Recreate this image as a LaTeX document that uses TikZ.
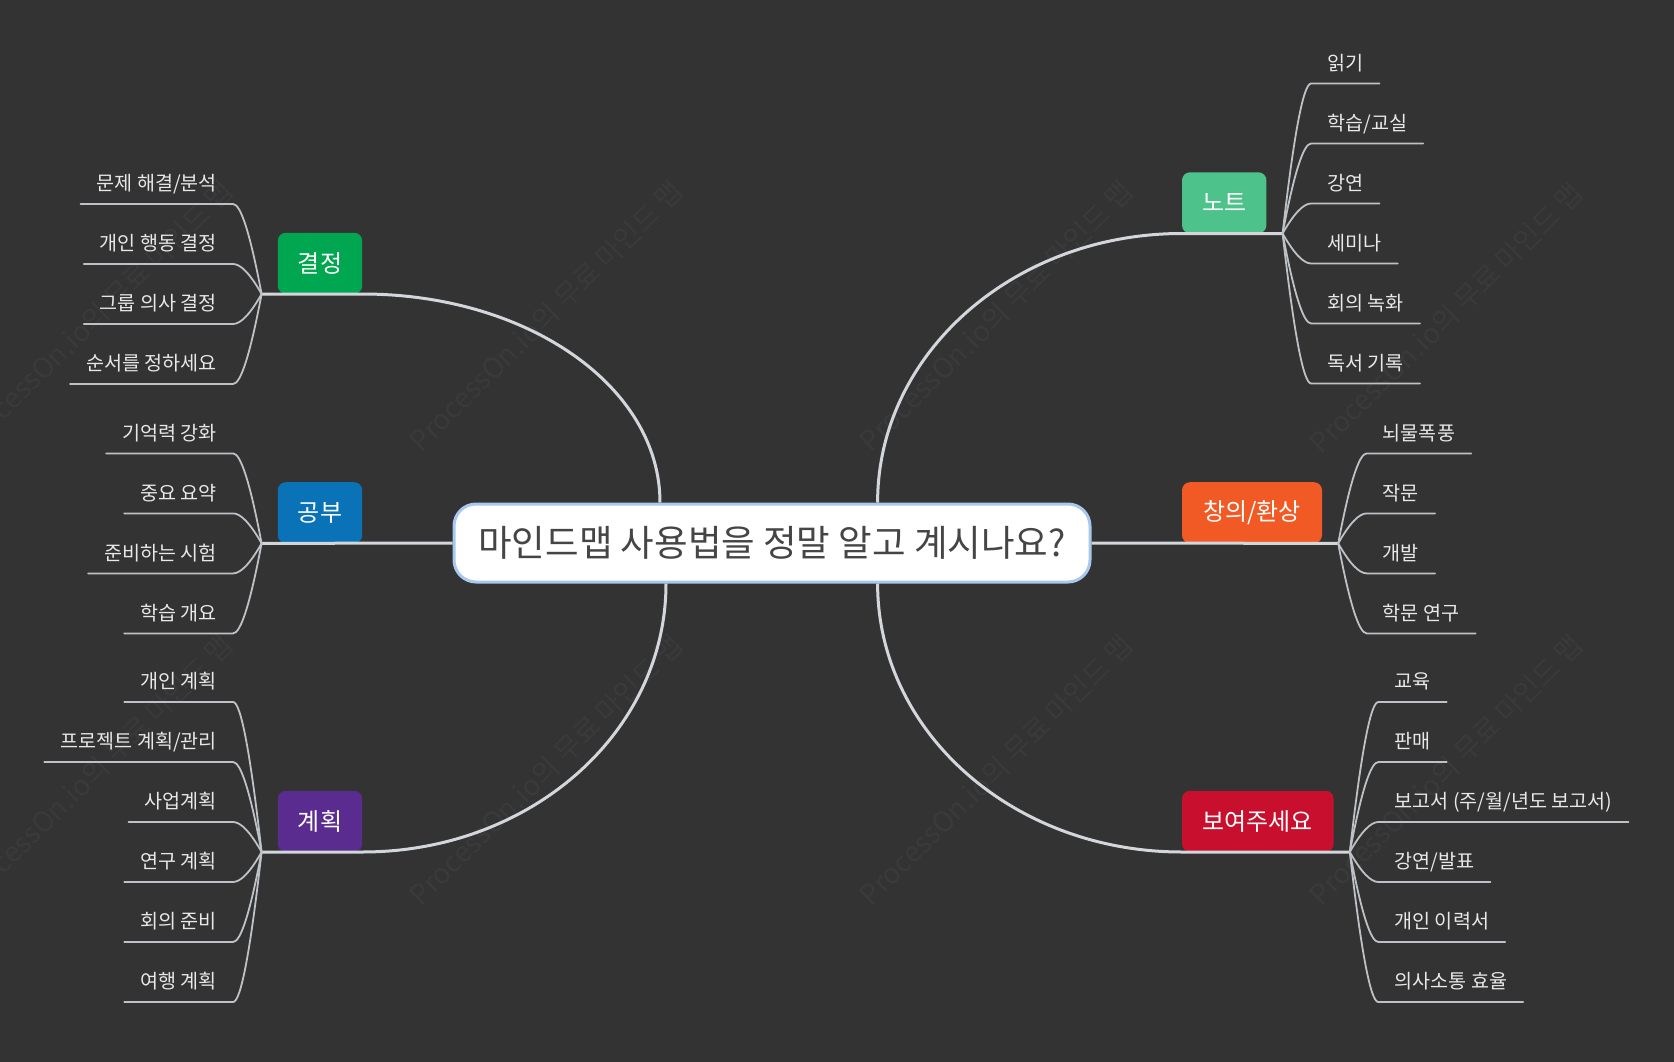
\documentclass[tikz,border=0pt]{standalone}
\usepackage{fontspec}
\setmainfont{Noto Sans CJK KR}
\usetikzlibrary{calc}
\definecolor{bgc}{HTML}{333333}
\definecolor{wmc}{HTML}{3A3A3A}
\definecolor{mainline}{HTML}{D3D7DB}
\definecolor{twigc}{HTML}{BEC2C6}
\definecolor{leaftxt}{HTML}{E8E8E8}
\definecolor{centerbd}{HTML}{A9C8EE}
\definecolor{centertxt}{HTML}{454545}
\definecolor{cgreen}{HTML}{00A650}
\definecolor{cblue}{HTML}{0A73B7}
\definecolor{cpurple}{HTML}{5B2C90}
\definecolor{cmint}{HTML}{4DC28B}
\definecolor{corange}{HTML}{F15A24}
\definecolor{cred}{HTML}{C8102E}
\newcommand\leafL[4]{%
  \node[leaf, anchor=south east] (#2) at ($(#1)+(-28.5,#3)$) {#4};
  \draw[twig] (#2.south west) -- (#2.south east) .. controls +(7.67,0) and ($(#1)!0.6667!(#2.south east)+(7.67,0)$) .. (#1);
}
\newcommand\leafR[4]{%
  \node[leaf, anchor=south west] (#2) at ($(#1)+(28.5,#3)$) {#4};
  \draw[twig] (#2.south east) -- (#2.south west) .. controls +(-7.67,0) and ($(#1)!0.6667!(#2.south west)+(-7.67,0)$) .. (#1);
}
\begin{document}
\begin{tikzpicture}[x=1pt,y=-1pt,
  wm/.style={text=wmc, rotate=44.5, font=\fontsize{28}{30}\selectfont, inner sep=0},
  centerbox/.style={fill=white, draw=centerbd, line width=3pt, rounded corners=22pt,
    minimum width=636pt, minimum height=78pt, inner sep=0, text=centertxt,
    font=\fontsize{36.5}{40}\selectfont},
  branch/.style={rounded corners=8pt, minimum height=61pt, inner xsep=20pt, inner ysep=0,
    text=white, font=\fontsize{24}{28}\selectfont},
  leaf/.style={inner xsep=16pt, inner ysep=0, text depth=13pt, text height=14pt,
    text=leaftxt, font=\fontsize{19.6}{23}\selectfont},
  mainc/.style={draw=mainline, line width=3pt},
  twig/.style={draw=twigc, line width=1.8pt, line cap=round}]
\fill[bgc] (0,0) rectangle (1674,1062);
\useasboundingbox (0,0) rectangle (1674,1062);
% watermarks
\foreach \wx/\wy/\wn in {96/316/w1,546/316/w2,996/316/w3,1446/318/w4,96/770/w5,546/770/w6,996/770/w7,1446/770/w8}{
  \node[wm] (\wn) at (\wx,\wy) {ProcessOn.io의 무료 마인드 맵};
}
% center
\node[centerbox] (c) at (772,543) {마인드맵 사용법을 정말 알고 계시나요?};
% branches
\node[branch, fill=cgreen, anchor=south west, minimum width=84.4pt] (b1) at (277.6,294) {결정};
\node[branch, fill=cblue, anchor=south west, minimum width=84.4pt] (b2) at (277.6,543.4) {공부};
\node[branch, fill=cpurple, anchor=south west, minimum width=84.4pt] (b3) at (277.6,852) {계획};
\node[branch, fill=cmint, anchor=south west, minimum width=84.4pt] (b4) at (1181.8,233.5) {노트};
\node[branch, fill=corange, anchor=south west, minimum width=140pt] (b5) at (1181.8,543.4) {창의/환상};
\node[branch, fill=cred, anchor=south west, minimum width=151.6pt] (b6) at (1181.8,852) {보여주세요};
% forks
\coordinate (f1) at ($(b1.south west)+(-16,0)$);
\coordinate (f2) at ($(b2.south west)+(-16,0)$);
\coordinate (f3) at ($(b3.south west)+(-16,0)$);
\coordinate (f4) at ($(b4.south east)+(16,0)$);
\coordinate (f5) at ($(b5.south east)+(16,0)$);
\coordinate (f6) at ($(b6.south east)+(16,0)$);
% attach points on center
\coordinate (a1) at ($(c.north)+(-112,0)$);
\coordinate (a2) at ($(c.south)+(-106,0)$);
\coordinate (a3) at ($(c.north)+(105.6,0)$);
\coordinate (a4) at ($(c.south)+(105.6,0)$);
% main connectors
\draw[mainc] (a1) .. controls +(0,-116) and +(165,0) .. (b1.south east) -- (f1);
\draw[mainc] (c.west) -- (f2);
\draw[mainc] (a2) .. controls +(0,149) and +(168,0) .. (b3.south east) -- (f3);
\draw[mainc] (a3) .. controls +(0,-149) and +(-168,0) .. (b4.south west) -- (f4);
\draw[mainc] (c.east) -- (f5);
\draw[mainc] (a4) .. controls +(0,149) and +(-168,0) .. (b6.south west) -- (f6);
% leaves: 결정
\leafL{f1}{l11}{-90}{문제 해결/분석}
\leafL{f1}{l12}{-30}{개인 행동 결정}
\leafL{f1}{l13}{30}{그룹 의사 결정}
\leafL{f1}{l14}{90}{순서를 정하세요}
% 공부
\leafL{f2}{l21}{-90}{기억력 강화}
\leafL{f2}{l22}{-30}{중요 요약}
\leafL{f2}{l23}{30}{준비하는 시험}
\leafL{f2}{l24}{90}{학습 개요}
% 계획
\leafL{f3}{l31}{-150}{개인 계획}
\leafL{f3}{l32}{-90}{프로젝트 계획/관리}
\leafL{f3}{l33}{-30}{사업계획}
\leafL{f3}{l34}{30}{연구 계획}
\leafL{f3}{l35}{90}{회의 준비}
\leafL{f3}{l36}{150}{여행 계획}
% 노트
\leafR{f4}{l41}{-150}{읽기}
\leafR{f4}{l42}{-90}{학습/교실}
\leafR{f4}{l43}{-30}{강연}
\leafR{f4}{l44}{30}{세미나}
\leafR{f4}{l45}{90}{회의 녹화}
\leafR{f4}{l46}{150}{독서 기록}
% 창의/환상
\leafR{f5}{l51}{-90}{뇌물폭풍}
\leafR{f5}{l52}{-30}{작문}
\leafR{f5}{l53}{30}{개발}
\leafR{f5}{l54}{90}{학문 연구}
% 보여주세요
\leafR{f6}{l61}{-150}{교육}
\leafR{f6}{l62}{-90}{판매}
\leafR{f6}{l63}{-30}{보고서 (주/월/년도 보고서)}
\leafR{f6}{l64}{30}{강연/발표}
\leafR{f6}{l65}{90}{개인 이력서}
\leafR{f6}{l66}{150}{의사소통 효율}
\end{tikzpicture}
\end{document}
